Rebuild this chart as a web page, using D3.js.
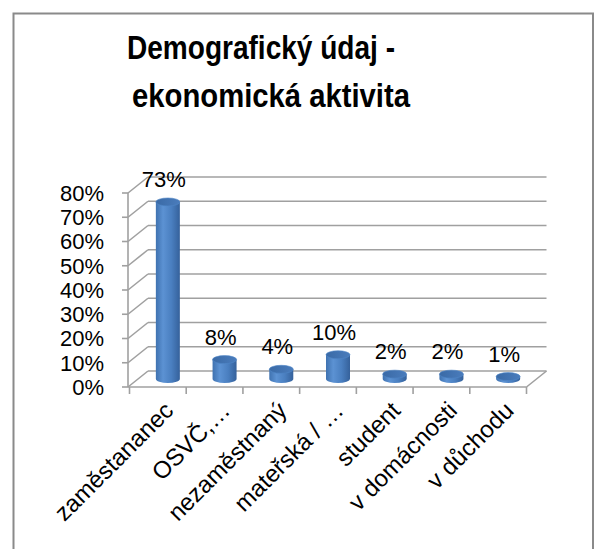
<!DOCTYPE html>
<html>
<head>
<meta charset="utf-8">
<script src="https://cdn.jsdelivr.net/npm/d3@7"></script>
<style>
  html, body { margin: 0; padding: 0; background: #fff; }
  svg { display: block; }
  text { font-family: "Liberation Sans", Arial, sans-serif; fill: #000; }
</style>
</head>
<body>
<svg id="chart" width="598" height="549"></svg>
<script>
const categories = ["zaměstananec", "OSVČ,…", "nezaměstnaný", "mateřská / …", "student", "v domácnosti", "v důchodu"];
const values = [0.73, 0.08, 0.04, 0.10, 0.02, 0.02, 0.01];
const valueLabels = ["73%", "8%", "4%", "10%", "2%", "2%", "1%"];
const yTicks = [0, 0.1, 0.2, 0.3, 0.4, 0.5, 0.6, 0.7, 0.8];
const titleLines = ["Demografický údaj -", "ekonomická aktivita"];

const svg = d3.select("#chart");
const W = 598, H = 549;

// chart border
svg.append("rect")
  .attr("x", 13.5).attr("y", 13.5)
  .attr("width", 579.5).attr("height", H)
  .attr("fill", "#fff").attr("stroke", "#8a8a8a").attr("stroke-width", 2);

// title
const titleX = [261, 271];
const titleY = [59, 107];
const titleW = [268, 278];
titleLines.forEach((t, i) => {
  svg.append("text")
    .attr("x", titleX[i]).attr("y", titleY[i])
    .attr("text-anchor", "middle")
    .attr("font-size", 33).attr("font-weight", "bold")
    .attr("textLength", titleW[i]).attr("lengthAdjust", "spacingAndGlyphs")
    .text(t);
});

// scales
const y = d3.scaleLinear().domain([0, 0.8]).range([387, 193]);
const x = d3.scaleBand().domain(categories).range([129.5, 526.5]);
const DX = 20, DY = -16;
const x0 = 128;
const gridColor = "#a0a0a0";

const defs = svg.append("defs");
const grad = defs.append("linearGradient").attr("id", "cyl").attr("x1", "0%").attr("x2", "100%");
grad.append("stop").attr("offset", "0%").attr("stop-color", "#3f72b0");
grad.append("stop").attr("offset", "30%").attr("stop-color", "#5c92d3");
grad.append("stop").attr("offset", "65%").attr("stop-color", "#4a7fc0");
grad.append("stop").attr("offset", "100%").attr("stop-color", "#35619b");
const gradTop = defs.append("linearGradient").attr("id", "cyltop").attr("x1", "0%").attr("x2", "100%");
gradTop.append("stop").attr("offset", "0%").attr("stop-color", "#3a6aa6");
gradTop.append("stop").attr("offset", "100%").attr("stop-color", "#4a7cbc");

const g = svg.append("g");

// back wall gridlines
g.selectAll(".grid").data(yTicks).enter().append("line")
  .attr("x1", x0 + DX).attr("x2", x.range()[1] + DX)
  .attr("y1", d => y(d) + DY).attr("y2", d => y(d) + DY)
  .attr("stroke", gridColor).attr("stroke-width", 1.6);

// side wall diagonals
g.selectAll(".side").data(yTicks).enter().append("line")
  .attr("x1", x0).attr("x2", x0 + DX)
  .attr("y1", d => y(d)).attr("y2", d => y(d) + DY)
  .attr("stroke", gridColor).attr("stroke-width", 1.6);

// floor front edge and right edge
g.append("line").attr("x1", x0).attr("x2", x.range()[1])
  .attr("y1", y(0)).attr("y2", y(0))
  .attr("stroke", gridColor).attr("stroke-width", 1.6);
g.append("line").attr("x1", x.range()[1]).attr("x2", x.range()[1] + DX)
  .attr("y1", y(0)).attr("y2", y(0) + DY)
  .attr("stroke", gridColor).attr("stroke-width", 1.6);

// front vertical axis
g.append("line").attr("x1", x0).attr("x2", x0)
  .attr("y1", y(0.8)).attr("y2", y(0))
  .attr("stroke", gridColor).attr("stroke-width", 1.6);
g.selectAll(".ytick").data(yTicks).enter().append("line")
  .attr("x1", x0 - 6).attr("x2", x0)
  .attr("y1", d => y(d)).attr("y2", d => y(d))
  .attr("stroke", gridColor).attr("stroke-width", 1.6);

// bottom category ticks
const bounds = categories.map(c => x(c)).concat([x.range()[1]]);
g.selectAll(".xtick").data(bounds).enter().append("line")
  .attr("x1", d => d).attr("x2", d => d)
  .attr("y1", y(0)).attr("y2", y(0) + 7)
  .attr("stroke", gridColor).attr("stroke-width", 1.6);

// y labels
const fmt = d3.format(".0%");
svg.selectAll(".ylab").data(yTicks).enter().append("text")
  .attr("x", 104).attr("y", d => y(d))
  .attr("dy", "0.36em")
  .attr("text-anchor", "end")
  .attr("font-size", 22)
  .text(d => fmt(d));

// cylinders
const bw = 24, ry = 4;
const rows = categories.map((c, i) => ({ c, v: values[i], l: valueLabels[i] }));
const bars = g.selectAll(".bar").data(rows).enter().append("g");
bars.each(function (d) {
  const gg = d3.select(this);
  const cx = x(d.c) + x.bandwidth() / 2 + DX / 2;
  const base = y(0) + DY / 2;
  const top = y(d.v) + DY / 2;
  gg.append("path")
    .attr("d", `M${cx - bw / 2},${top} L${cx - bw / 2},${base} A${bw / 2},${ry} 0 0 0 ${cx + bw / 2},${base} L${cx + bw / 2},${top} Z`)
    .attr("fill", "url(#cyl)");
  gg.append("ellipse")
    .attr("cx", cx).attr("cy", top).attr("rx", bw / 2).attr("ry", ry)
    .attr("fill", "url(#cyltop)").attr("stroke", "#4f86c8").attr("stroke-width", 0.6);
});

// value labels
svg.selectAll(".vlab").data(rows).enter().append("text")
  .attr("x", d => x(d.c) + x.bandwidth() / 2 + DX / 2 - 4)
  .attr("y", d => y(d.v) + DY / 2 - 15)
  .attr("text-anchor", "middle")
  .attr("font-size", 22)
  .text(d => d.l);

// x labels rotated
svg.selectAll(".xlab").data(categories).enter().append("text")
  .attr("transform", d => `translate(${x(d) + x.bandwidth() / 2 + 17},${412}) rotate(-45)`)
  .attr("text-anchor", "end")
  .attr("font-size", 24)
  .text(d => d);
</script>
</body>
</html>
